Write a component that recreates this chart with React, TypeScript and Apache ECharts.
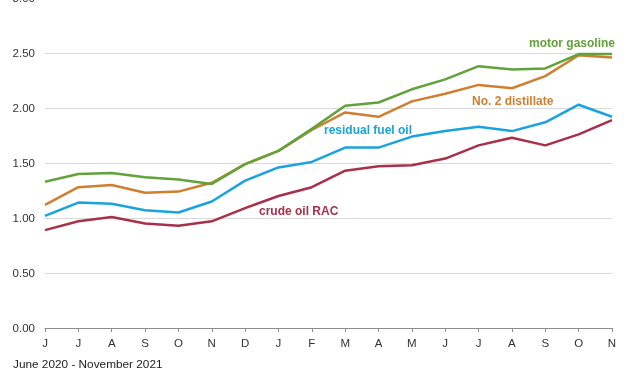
import React, { useEffect, useRef } from "react";
import * as echarts from "echarts";

const months = ["J", "J", "A", "S", "O", "N", "D", "J", "F", "M", "A", "M", "J", "J", "A", "S", "O", "N"];
const motorGasoline = [1.33, 1.40, 1.41, 1.37, 1.35, 1.31, 1.49, 1.61, 1.81, 2.02, 2.05, 2.17, 2.26, 2.38, 2.35, 2.36, 2.49, 2.49];
const distillate = [1.12, 1.28, 1.30, 1.23, 1.24, 1.32, 1.49, 1.61, 1.80, 1.96, 1.92, 2.06, 2.13, 2.21, 2.18, 2.29, 2.48, 2.46];
const residual = [1.02, 1.14, 1.13, 1.07, 1.05, 1.15, 1.34, 1.46, 1.51, 1.64, 1.64, 1.74, 1.79, 1.83, 1.79, 1.87, 2.03, 1.92];
const crude = [0.89, 0.97, 1.01, 0.95, 0.93, 0.97, 1.09, 1.20, 1.28, 1.43, 1.47, 1.48, 1.54, 1.66, 1.73, 1.66, 1.76, 1.89];

const seriesNames = ["motor gasoline", "No. 2 distillate", "residual fuel oil", "crude oil RAC"];
const colors = ["#62a23b", "#cf7f30", "#1aa3df", "#a8304a"];

const FONT = "'Liberation Sans', Arial, sans-serif";
const OFFSET = 10;

export default function App() {
  const ref = useRef<HTMLDivElement>(null);
  useEffect(() => {
    if (!ref.current) return;
    const chart = echarts.init(ref.current, null, { renderer: "svg" });
    const data = [motorGasoline, distillate, residual, crude];
    chart.setOption({
      animation: false,
      grid: { left: 45, right: 15, top: 8, bottom: 48, containLabel: false },
      xAxis: {
        type: "category",
        data: months,
        boundaryGap: false,
        axisLine: { lineStyle: { color: "#8c8c8c", width: 1 } },
        axisTick: { show: true, length: 4, lineStyle: { color: "#8c8c8c" } },
        axisLabel: { color: "#333", fontFamily: FONT, fontSize: 11.5, margin: 9 },
      },
      yAxis: {
        type: "value",
        min: 0,
        max: 3,
        interval: 0.5,
        axisLine: { show: false },
        axisTick: { show: false },
        splitLine: { lineStyle: { color: "#d9d9d9", width: 1 } },
        axisLabel: {
          color: "#333",
          fontFamily: FONT,
          fontSize: 11.5,
          margin: 10,
          formatter: (v: number) => v.toFixed(2),
        },
      },
      series: data.map((d, i) => ({
        name: seriesNames[i],
        type: "line",
        data: d,
        symbol: "none",
        lineStyle: { color: colors[i], width: 2.5 },
        z: 10 - i,
      })),
      graphic: [
        { type: "text", left: 529, top: 37 + OFFSET, style: { text: "motor gasoline", fill: colors[0], font: `bold 12px ${FONT}` } },
        { type: "text", left: 472, top: 95 + OFFSET, style: { text: "No. 2 distillate", fill: colors[1], font: `bold 12px ${FONT}` } },
        { type: "text", left: 324, top: 124 + OFFSET, style: { text: "residual fuel oil", fill: colors[2], font: `bold 12px ${FONT}` } },
        { type: "text", left: 259, top: 205 + OFFSET, style: { text: "crude oil RAC", fill: colors[3], font: `bold 12px ${FONT}` } },
        { type: "text", left: 13, top: 358 + OFFSET, style: { text: "June 2020 - November 2021", fill: "#222", font: `11.8px ${FONT}` } },
      ],
    });
    return () => chart.dispose();
  }, []);
  return <div ref={ref} style={{ position: "fixed", left: 0, top: -OFFSET, width: 627, height: 376 + OFFSET }} />;
}
